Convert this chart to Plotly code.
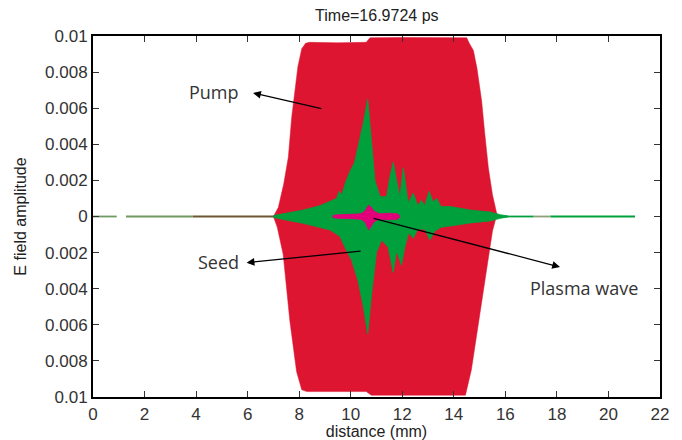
import plotly.graph_objects as go

# ---------------- data ----------------
title_text = "Time=16.9724 ps"

# Pump envelope (fast oscillation drawn as filled envelope)
pump_up_x = [7.0, 7.19, 7.4, 7.58, 7.71, 7.84, 7.95, 8.1, 8.25, 8.4, 9.5, 10.6, 10.75, 12.0, 13.5, 14.5,
             14.6, 14.76, 14.9, 15.08, 15.2, 15.34, 15.5, 15.66, 15.75]
pump_up_y = [0.0, 0.0005, 0.0018, 0.0033, 0.0055, 0.007, 0.0083, 0.0093, 0.0096, 0.00965, 0.00962, 0.00965, 0.0099, 0.00992, 0.0099, 0.0099,
             0.0096, 0.0092, 0.0082, 0.0064, 0.0046, 0.0027, 0.0012, 0.0002, 0.0]
pump_lo_x = [7.0, 7.15, 7.38, 7.64, 7.9, 8.1, 8.3, 10.6, 10.8, 14.45, 14.68, 15.0, 15.27, 15.5, 15.65]
pump_lo_y = [0.0, -0.0006, -0.0021, -0.0058, -0.0086, -0.0096, -0.0097, -0.0097, -0.0099, -0.0099,
             -0.0085, -0.0057, -0.003, -0.0008, 0.0]

# Seed envelope
seed_up_x = [7.0, 7.5, 8.16, 8.8, 9.45, 9.55, 9.65, 9.8, 9.97, 10.15, 10.3, 10.49, 10.66, 10.81, 10.94, 11.14, 11.39,
             11.52, 11.65, 11.78, 11.91, 12.04, 12.23, 12.43, 12.6, 12.74, 12.87, 13.04, 13.2, 13.34, 13.5,
             13.85, 14.24, 14.63, 15.02, 15.4, 15.8, 16.1]
seed_up_y = [0.00005, 0.0002, 0.00036, 0.0006, 0.001, 0.0014, 0.0012, 0.0019, 0.0025, 0.003, 0.0039, 0.0052, 0.0065, 0.0042, 0.002, 0.0011, 0.0011,
             0.0022, 0.003, 0.002, 0.0011, 0.0027, 0.00075, 0.0013, 0.0006, 0.0009, 0.0006, 0.0014, 0.0008, 0.001, 0.00055,
             0.00055, 0.00045, 0.00036, 0.0003, 0.00025, 0.0001, 0.00003]
seed_lo_x = [7.0, 7.5, 8.16, 9.2, 9.58, 9.84, 10.03, 10.29, 10.49, 10.66, 10.81, 11.0, 11.2, 11.45, 11.65, 11.78,
             11.97, 12.1, 12.25, 12.43, 12.6, 12.87, 13.07, 13.27, 13.5, 13.85, 14.24, 14.63, 15.02, 15.4, 15.8, 16.1]
seed_lo_y = [-0.00005, -0.0002, -0.00038, -0.00075, -0.0011, -0.0019, -0.0024, -0.0036, -0.005, -0.0065, -0.0043, -0.002,
             -0.0013, -0.0017, -0.0031, -0.0019, -0.0027, -0.0017, -0.0009, -0.0012, -0.0007, -0.0007, -0.0013, -0.0008,
             -0.0006, -0.00055, -0.00045, -0.00036, -0.0003, -0.00025, -0.0001, -0.00003]

# Plasma wave envelope
plasma_x = [9.3, 9.5, 10.0, 10.4, 10.55, 10.7, 10.8, 10.9, 11.1, 11.5, 11.8, 11.9]
plasma_up = [0.00005, 0.0001, 0.00012, 0.00015, 0.0003, 0.00064, 0.0005, 0.0003, 0.00015, 0.00018, 0.00015, 0.00005]
plasma_lo = [-0.00005, -0.0001, -0.00012, -0.00015, -0.0003, -0.00075, -0.0005, -0.0003, -0.00015, -0.00018, -0.00015, -0.00005]

# Flat (zero-amplitude) field segments outside the pulses
flat_start = [0.0, 1.28, 3.87, 15.9, 17.1, 17.75]
flat_end = [0.92, 3.87, 7.06, 17.1, 17.75, 21.03]
flat_kind = ["grey", "grey", "brown", "seed", "grey2", "seed"]

xticks = list(range(0, 23, 2))
yticks = [-0.01, -0.008, -0.006, -0.004, -0.002, 0.0, 0.002, 0.004, 0.006, 0.008, 0.01]
yticktext = ["0.01", "0.008", "0.006", "0.004", "0.002", "0", "0.002", "0.004", "0.006", "0.008", "0.01"]

# ---------------- styles ----------------
RED = "#dd1530"
GREEN = "#00a03c"
PINK = "#e2007a"
flat_colors = {"grey": "#6f9a64", "brown": "#6e5632", "seed": GREEN, "grey2": "#8f9f78"}

fig = go.Figure()

for s, e, k in zip(flat_start, flat_end, flat_kind):
    fig.add_trace(go.Scatter(x=[s, e], y=[0, 0], mode="lines",
                             line=dict(color=flat_colors[k], width=1.8), hoverinfo="skip"))

fig.add_trace(go.Scatter(x=pump_up_x + pump_lo_x[::-1], y=pump_up_y + pump_lo_y[::-1],
                         fill="toself", fillcolor=RED, mode="lines", line=dict(color=RED, width=0.5)))
fig.add_trace(go.Scatter(x=seed_up_x + seed_lo_x[::-1], y=seed_up_y + seed_lo_y[::-1],
                         fill="toself", fillcolor=GREEN, mode="lines", line=dict(color=GREEN, width=0.8)))
fig.add_trace(go.Scatter(x=plasma_x + plasma_x[::-1], y=plasma_up + plasma_lo[::-1],
                         fill="toself", fillcolor=PINK, mode="lines", line=dict(color=PINK, width=0.8)))

ann_font = dict(family="Open Sans, Noto Sans, sans-serif", size=18, color="#333333")
arrow_kw = dict(showarrow=True, arrowhead=2, arrowsize=1.2, arrowwidth=1.3, arrowcolor="black",
                xref="x", yref="y", axref="x", ayref="y", text="")
# arrows (tail -> head)
fig.add_annotation(x=6.21, y=0.00684, ax=8.92, ay=0.00596, **arrow_kw)
fig.add_annotation(x=5.96, y=-0.00256, ax=10.44, ay=-0.00191, **arrow_kw)
fig.add_annotation(x=18.12, y=-0.0028, ax=10.83, ay=-0.00008, **arrow_kw)
# labels
fig.add_annotation(x=4.7, y=0.0069, text="Pump", showarrow=False, font=ann_font, xref="x", yref="y")
fig.add_annotation(x=4.85, y=-0.00252, text="Seed", showarrow=False, font=ann_font, xref="x", yref="y")
fig.add_annotation(x=19.05, y=-0.00396, text="Plasma wave", showarrow=False, font=ann_font, xref="x", yref="y")

tick_font = dict(family="Liberation Sans, Arial, sans-serif", size=17, color="#333333")
title_font = dict(family="Liberation Sans, Arial, sans-serif", size=16, color="#222222")
fig.update_layout(
    width=682, height=440,
    margin=dict(l=93, r=22, t=36, b=43, autoexpand=False),
    paper_bgcolor="white", plot_bgcolor="white",
    showlegend=False,
    title=dict(text=title_text, x=0.5525, xanchor="center", y=0.965, yanchor="middle", font=title_font),
    xaxis=dict(range=[0, 22], tickvals=xticks, ticks="inside", ticklen=6, tickwidth=1, tickcolor="#333333",
               showline=True, linecolor="black", linewidth=2, mirror="ticks", showgrid=False, zeroline=False,
               tickfont=tick_font, ticklabelstandoff=1, automargin=False,
               title=dict(text="distance (mm)", standoff=0, font=title_font)),
    yaxis=dict(range=[-0.01, 0.01], tickvals=yticks, ticktext=yticktext, ticks="inside", ticklen=6,
               tickwidth=1, tickcolor="#333333",
               showline=True, linecolor="black", linewidth=2, mirror="ticks", showgrid=False, zeroline=False,
               tickfont=tick_font, ticklabelstandoff=0, automargin=False,
               title=dict(text="E field amplitude", standoff=14, font=title_font)),
)

fig.write_html("out.html")
